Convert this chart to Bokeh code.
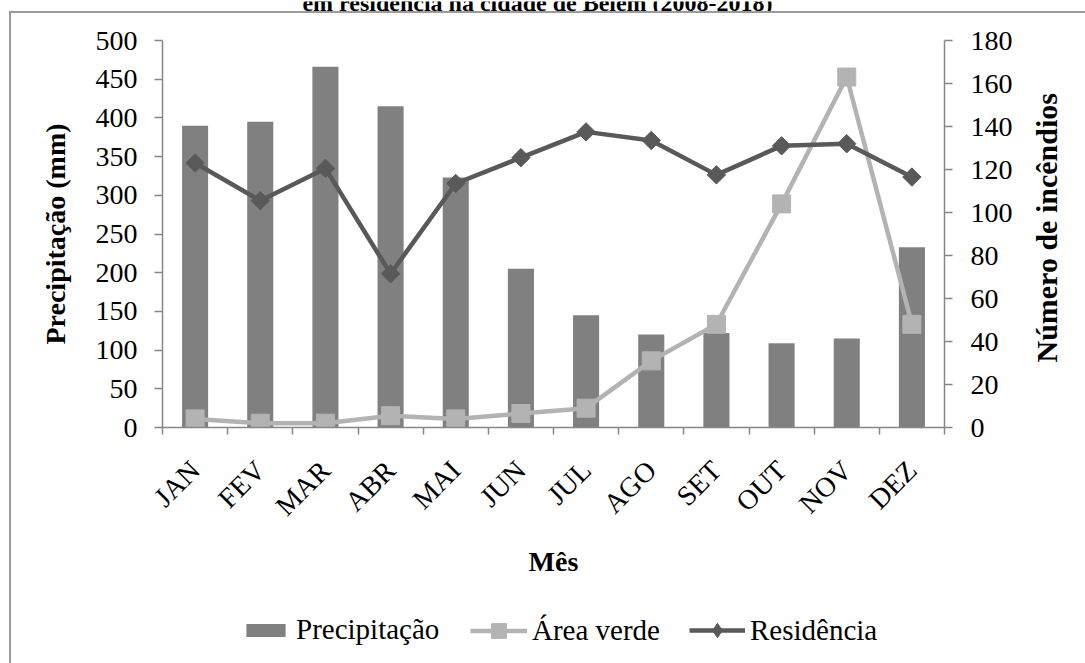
import math
from bokeh.plotting import figure
from bokeh.layouts import column, row
from bokeh.models import (Range1d, LinearAxis, FixedTicker, Legend, LegendItem, Label)
from bokeh.embed import file_html
from bokeh.resources import INLINE

# ---------------- data ----------------
meses = ["JAN", "FEV", "MAR", "ABR", "MAI", "JUN",
         "JUL", "AGO", "SET", "OUT", "NOV", "DEZ"]
precipitacao = [390, 395, 466, 415, 323, 205, 145, 120, 122, 109, 115, 233]
area_verde = [4, 2, 2, 5.5, 4, 6.5, 9, 31, 48, 104, 163, 48]
residencia = [123, 105.5, 120.5, 71.5, 113.5, 125.5, 137.5, 133.5, 117.5, 131, 132, 116.5]
ticks_precip = [0, 50, 100, 150, 200, 250, 300, 350, 400, 450, 500]
ticks_incendios = [0, 20, 40, 60, 80, 100, 120, 140, 160, 180]
titulo = "em residência na cidade de Belém (2008-2018)"
titulo_eixo_dir = "Número de incêndios"

FONT = "Liberation Serif"
AXIS_GRAY = "#868686"
C_BAR = "#808080"
C_AV = "#b3b3b3"
C_RES = "#595959"

xs = [i + 0.5 for i in range(len(meses))]
bounds = list(range(len(meses) + 1))


def bare(fig):
    fig.outline_line_color = None
    fig.grid.visible = False
    return fig


# ---------------- main chart ----------------
p = bare(figure(width=1009, height=577, output_backend="svg", toolbar_location=None,
                x_range=Range1d(0, len(meses)), y_range=Range1d(0, 500),
                min_border_left=151, min_border_right=76, min_border_top=27,
                min_border_bottom=163))
p.extra_y_ranges = {"right": Range1d(0, 180)}

p.vbar(x=xs, top=precipitacao, bottom=0, width=0.4, fill_color=C_BAR, line_color=None)
p.line(xs, area_verde, y_range_name="right", line_color=C_AV, line_width=4.5)
p.scatter(xs, area_verde, y_range_name="right", marker="square", size=18,
          fill_color=C_AV, line_color=C_AV)
p.line(xs, residencia, y_range_name="right", line_color=C_RES, line_width=4.5)
p.scatter(xs, residencia, y_range_name="right", marker="square", angle=math.pi / 4,
          size=13, fill_color=C_RES, line_color=C_RES)


def style_axis(ax):
    ax.axis_line_color = AXIS_GRAY
    ax.axis_line_width = 1.5
    ax.major_tick_line_color = AXIS_GRAY
    ax.major_tick_line_width = 1.5
    ax.minor_tick_line_color = AXIS_GRAY
    ax.minor_tick_line_width = 1.5
    ax.major_label_text_font = FONT
    ax.major_label_text_font_size = "28px"
    ax.major_label_text_color = "black"
    ax.axis_label_text_font = FONT
    ax.axis_label_text_font_style = "bold"
    ax.axis_label_text_font_size = "28px"
    ax.axis_label_text_color = "black"


ya = p.yaxis[0]
style_axis(ya)
ya.ticker = FixedTicker(ticks=ticks_precip)
ya.major_tick_out = 8
ya.major_tick_in = 0
ya.minor_tick_line_color = None
ya.major_label_standoff = 17
ya.axis_label = "Precipitação (mm)"
ya.axis_label_standoff = 22

yr = LinearAxis(y_range_name="right", ticker=FixedTicker(ticks=ticks_incendios))
style_axis(yr)
yr.major_tick_out = 8
yr.major_tick_in = 0
yr.minor_tick_line_color = None
yr.major_label_standoff = 18
p.add_layout(yr, "right")

xa = p.xaxis[0]
style_axis(xa)
xa.ticker = FixedTicker(ticks=xs, minor_ticks=bounds)
xa.major_label_overrides = {x: m for x, m in zip(xs, meses)}
xa.major_tick_out = 0
xa.major_tick_in = 0
xa.minor_tick_out = 7
xa.minor_tick_in = 0
xa.major_label_orientation = math.pi / 4
xa.major_label_standoff = 31
xa.axis_label = "Mês"
xa.axis_label_standoff = 10

# ---------------- right-hand axis title (reads bottom to top) ----------------
pr = bare(figure(width=65, height=577, output_backend="svg", toolbar_location=None,
                 x_range=Range1d(0, 65), y_range=Range1d(0, 500),
                 x_axis_location=None, y_axis_location=None,
                 min_border_left=0, min_border_right=0, min_border_top=27,
                 min_border_bottom=163))
pr.add_layout(Label(x=26, y=258, text=titulo_eixo_dir, angle=math.pi / 2,
                    text_align="center", text_baseline="middle",
                    text_font=FONT, text_font_style="bold", text_font_size="30px",
                    text_color="black"))

# ---------------- legend strip ----------------
pl = bare(figure(width=1074, height=73, output_backend="svg", toolbar_location=None,
                 x_range=Range1d(0, 1), y_range=Range1d(0, 1),
                 x_axis_location=None, y_axis_location=None,
                 min_border_left=151, min_border_right=141, min_border_top=0,
                 min_border_bottom=0))

# legend sample glyphs (one point each, placed outside the visible ranges)
lg_bar = pl.vbar(x=[-5], bottom=[-5], top=[-4], width=0.1, fill_color=C_BAR, line_color=None)
lg_av_l = pl.line(x=[-5, -4], y=[-5, -5], line_color=C_AV, line_width=4.5)
lg_av_s = pl.scatter(x=[-5], y=[-5], marker="square", fill_color=C_AV, line_color=C_AV)
lg_res_l = pl.line(x=[-5, -4], y=[-5, -5], line_color=C_RES, line_width=4.5)
lg_res_s = pl.scatter(x=[-5], y=[-5], marker="diamond", fill_color=C_RES, line_color=C_RES)


def make_legend(label, renderers, vx, gw, gh, standoff):
    h = max(gh, 32)
    lg = Legend(items=[LegendItem(label=label, renderers=renderers)],
                location=(vx, 33 - h / 2), orientation="horizontal",
                glyph_width=gw, glyph_height=gh, label_standoff=standoff,
                padding=0, margin=0, spacing=0,
                border_line_color=None, background_fill_alpha=0,
                label_text_font=FONT, label_text_font_size="29px",
                label_text_color="black")
    pl.add_layout(lg, "center")


make_legend("Precipitação", [lg_bar], 79, 49, 16, 6)
make_legend("Área verde", [lg_av_l, lg_av_s], 308, 57, 37, 5)
make_legend("Residência", [lg_res_l, lg_res_s], 527, 56, 36, 5)

# ---------------- clipped title strip above the chart frame ----------------
pt = bare(figure(width=1085, height=11, output_backend="svg", toolbar_location=None,
                 x_range=Range1d(0, 1085), y_range=Range1d(0, 11),
                 x_axis_location=None, y_axis_location=None, min_border=0))
pt.add_layout(Label(x=537, y=9.5, text=titulo, text_align="center",
                    text_baseline="alphabetic", text_font=FONT,
                    text_font_style="bold", text_font_size="24px", text_color="black"))

boxed = column(row(p, pr, spacing=0), pl, spacing=0,
               styles={"margin-left": "9px", "border-left": "2px solid #9b9b9b",
                       "border-top": "2px solid #9b9b9b"})
layout = column(pt, boxed, spacing=0)

open("out.html", "w").write(file_html(layout, INLINE))
